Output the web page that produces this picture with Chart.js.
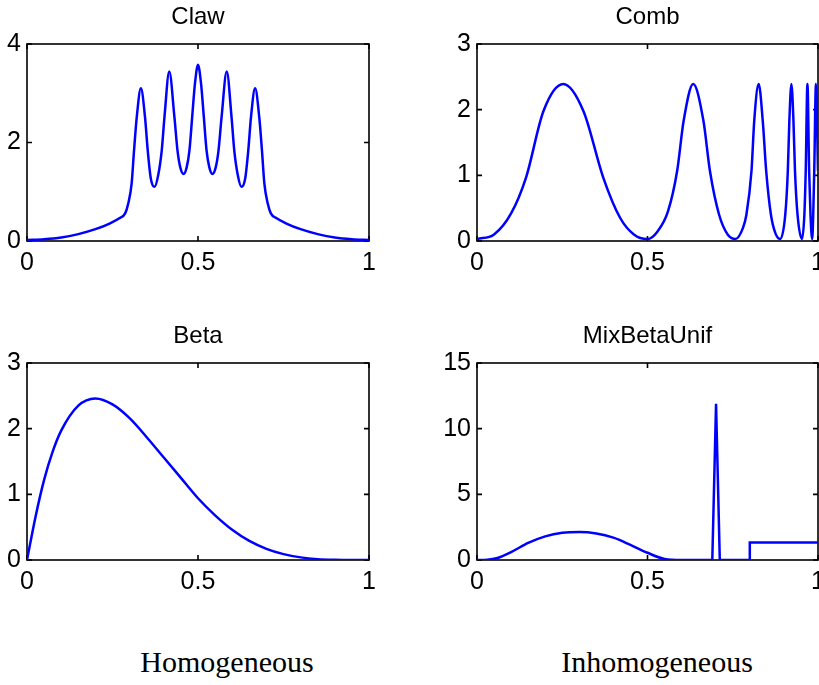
<!DOCTYPE html>
<html>
<head>
<meta charset="utf-8">
<script src="https://cdn.jsdelivr.net/npm/chart.js@4.4.1/dist/chart.umd.min.js"></script>
<style>
  html, body { margin: 0; padding: 0; background: #fff; overflow: hidden; width: 819px; height: 685px; }
  canvas { position: absolute; }
  .caption { position: absolute; width: 400px; text-align: center; font-family: "Liberation Serif", "DejaVu Serif", serif; font-size: 30px; line-height: 30px; color: #000; }
</style>
</head>
<body>
<canvas id="claw" width="410" height="300" style="left:0px;top:1px"></canvas>
<canvas id="comb" width="460" height="300" style="left:400px;top:1px"></canvas>
<canvas id="beta" width="410" height="300" style="left:0px;top:320px"></canvas>
<canvas id="mix" width="460" height="300" style="left:400px;top:320px"></canvas>
<div class="caption" style="left:27px;top:647px">Homogeneous</div>
<div class="caption" style="left:457px;top:647px">Inhomogeneous</div>
<script>
// ---- data ----
var xTicks = [0, 0.5, 1];
var xTickLabels = ['0', '0.5', '1'];

var clawX = [0, 0.05, 0.1, 0.15, 0.2, 0.243, 0.27, 0.287, 0.296, 0.306, 0.313, 0.321, 0.333,
  0.345, 0.353, 0.362, 0.373, 0.384, 0.394, 0.402, 0.416, 0.431, 0.44, 0.448, 0.458, 0.467,
  0.475, 0.483, 0.491, 0.5, 0.509, 0.517, 0.525, 0.533, 0.542, 0.552, 0.56, 0.569, 0.584,
  0.598, 0.606, 0.616, 0.627, 0.638, 0.647, 0.655, 0.667, 0.679, 0.687, 0.694, 0.704, 0.713,
  0.73, 0.757, 0.8, 0.85, 0.9, 0.95, 1];
var clawY = [0.02, 0.035, 0.07, 0.14, 0.24, 0.36, 0.46, 0.56, 0.76, 1.17, 1.84, 2.52, 3.10,
  2.52, 1.84, 1.27, 1.10, 1.35, 1.84, 2.52, 3.44, 2.52, 1.84, 1.5, 1.36, 1.5,
  1.84, 2.52, 3.19, 3.58, 3.19, 2.52, 1.84, 1.5, 1.36, 1.5, 1.84, 2.52, 3.44,
  2.52, 1.84, 1.35, 1.10, 1.27, 1.84, 2.52, 3.10, 2.52, 1.84, 1.17, 0.76, 0.56,
  0.46, 0.36, 0.24, 0.14, 0.07, 0.035, 0.02];
var clawYTicks = [0, 2, 4];

var combX = [0, 0.05, 0.1, 0.144, 0.195, 0.253, 0.312, 0.37, 0.42, 0.46, 0.5,
  0.53, 0.56, 0.587, 0.606, 0.634, 0.664, 0.683, 0.71, 0.735, 0.758,
  0.78, 0.79, 0.805, 0.813, 0.826, 0.838, 0.848, 0.862, 0.875, 0.889,
  0.904, 0.9115, 0.916, 0.922, 0.928, 0.9325, 0.94, 0.953,
  0.96, 0.964, 0.969, 0.974, 0.978, 0.983,
  0.986, 0.989, 0.994, 1];
var combY = [0.03, 0.1, 0.42, 0.97, 1.98, 2.39, 1.98, 0.97, 0.35, 0.1, 0.03,
  0.15, 0.45, 1.07, 1.83, 2.39, 1.83, 1.07, 0.4, 0.1, 0.03,
  0.2, 0.4, 1.07, 1.83, 2.39, 1.83, 1.07, 0.4, 0.12, 0.03,
  0.4, 1.07, 1.83, 2.39, 1.83, 1.07, 0.4, 0.03,
  0.4, 1.07, 2.39, 1.07, 0.4, 0.03,
  0.4, 1.07, 2.39, 1.07];
var combYTicks = [0, 1, 2, 3];

var betaX = [0, 0.025, 0.05, 0.075, 0.1, 0.15, 0.2, 0.25, 0.3, 0.35, 0.4, 0.45, 0.5,
  0.55, 0.6, 0.65, 0.7, 0.75, 0.8, 0.85, 0.9, 0.95, 1];
var betaY = [0, 0.66, 1.22, 1.65, 1.97, 2.35, 2.46, 2.37, 2.16, 1.87, 1.56, 1.25, 0.94,
  0.68, 0.46, 0.29, 0.17, 0.09, 0.04, 0.013, 0.003, 0, 0];
var betaYTicks = [0, 1, 2, 3];

// smooth beta bump, then the narrow spike and the uniform step
var mixBumpX = [0, 0.03, 0.06, 0.1, 0.15, 0.2, 0.25, 0.3, 0.35, 0.4, 0.45, 0.5, 0.55, 0.6, 0.69];
var mixBumpY = [0, 0.02, 0.15, 0.6, 1.3, 1.8, 2.07, 2.13, 2.02, 1.7, 1.15, 0.55, 0.08, 0, 0];
var mixSpikeX = [0.69, 0.701, 0.712, 0.8, 0.8, 1];
var mixSpikeY = [0, 11.9, 0, 0, 1.33, 1.33];
var mixYTicks = [0, 5, 10, 15];

var FONT = '"Liberation Sans", Arial, Helvetica, sans-serif';
var BLUE = '#0000ff';

//draws the closed MATLAB style box with inward ticks
var boxPlugin = {
  id: 'matlabBox',
  beforeDatasetsDraw: function(chart) {
    var ctx = chart.ctx;
    var a = chart.chartArea;
    var xs = chart.scales.x;
    var ys = chart.scales.y;
    ctx.save();
    ctx.strokeStyle = '#000';
    ctx.lineWidth = 1.6;
    ctx.strokeRect(a.left, a.top, a.right - a.left, a.bottom - a.top);
    ctx.beginPath();
    xs.ticks.forEach(function(t) {
      var px = xs.getPixelForValue(t.value);
      ctx.moveTo(px, a.bottom);
      ctx.lineTo(px, a.bottom - 5);
      ctx.moveTo(px, a.top);
      ctx.lineTo(px, a.top + 5);
    });
    ys.ticks.forEach(function(t) {
      var py = ys.getPixelForValue(t.value);
      ctx.moveTo(a.left, py);
      ctx.lineTo(a.left + 5, py);
      ctx.moveTo(a.right, py);
      ctx.lineTo(a.right - 5, py);
    });
    ctx.stroke();
    ctx.restore();
  }
};

function toPoints(xs, ys) {
  return xs.map(function(x, i) { return { x: x, y: ys[i] }; });
}

function curve(xs, ys, smooth) {
  return {
    data: toPoints(xs, ys),
    borderColor: BLUE,
    borderWidth: 2.5,
    pointRadius: 0,
    fill: false,
    tension: 0,
    cubicInterpolationMode: smooth ? 'monotone' : 'default'
  };
}

function makePanel(id, title, datasets, yTicks, yWidth, rightPad) {
  var ctx = document.getElementById(id).getContext('2d');
  return new Chart(ctx, {
    type: 'line',
    data: { datasets: datasets },
    plugins: [boxPlugin],
    options: {
      responsive: false,
      animation: false,
      events: [],
      layout: { padding: { left: 0, top: 0, right: rightPad, bottom: 20 } },
      plugins: {
        legend: { display: false },
        tooltip: { enabled: false },
        title: {
          display: true,
          text: title,
          fullSize: false,
          color: '#000',
          font: { family: FONT, size: 24, weight: 'normal' },
          padding: { top: 2, bottom: 12.2 }
        }
      },
      scales: {
        x: {
          type: 'linear',
          min: 0,
          max: 1,
          afterBuildTicks: function(s) { s.ticks = xTicks.map(function(v) { return { value: v }; }); },
          afterFit: function(s) { s.height = 40; },
          grid: { display: false, drawTicks: false },
          border: { display: false },
          ticks: {
            color: '#000', font: { family: FONT, size: 25 }, padding: 7, maxRotation: 0, autoSkip: false,
            callback: function(v) { return xTickLabels[xTicks.indexOf(v)]; }
          }
        },
        y: {
          type: 'linear',
          min: yTicks[0],
          max: yTicks[yTicks.length - 1],
          afterBuildTicks: function(s) { s.ticks = yTicks.map(function(v) { return { value: v }; }); },
          afterFit: function(s) { s.width = yWidth; },
          grid: { display: false, drawTicks: false },
          border: { display: false },
          ticks: {
            color: '#000', font: { family: FONT, size: 25 }, padding: 6, autoSkip: false,
            callback: function(v) { return String(v); }
          }
        }
      }
    }
  });
}

makePanel('claw', 'Claw', [curve(clawX, clawY, true)], clawYTicks, 27, 41);
makePanel('comb', 'Comb', [curve(combX, combY, true)], combYTicks, 77, 42);
makePanel('beta', 'Beta', [curve(betaX, betaY, true)], betaYTicks, 27, 41);
makePanel('mix', 'MixBetaUnif', [curve(mixBumpX, mixBumpY, true), curve(mixSpikeX, mixSpikeY, false)], mixYTicks, 77, 42);
</script>
</body>
</html>
